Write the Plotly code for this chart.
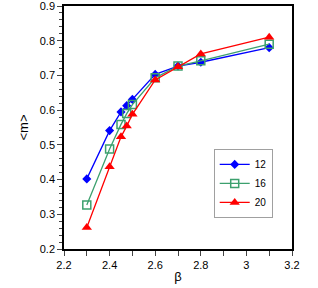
import plotly.graph_objects as go

beta = [2.3, 2.4, 2.45, 2.475, 2.5, 2.6, 2.7, 2.8, 3.1]
m12 = [0.402, 0.541, 0.595, 0.613, 0.631, 0.703, 0.727, 0.738, 0.780]
m16 = [0.327, 0.488, 0.559, 0.590, 0.616, 0.693, 0.727, 0.742, 0.790]
m20 = [0.262, 0.437, 0.523, 0.554, 0.588, 0.687, 0.725, 0.762, 0.810]
names = ["12", "16", "20"]

FONT = "Liberation Sans, Arial, sans-serif"

fig = go.Figure()
fig.add_trace(go.Scatter(x=beta, y=m12, name=names[0], mode="lines+markers",
                         line=dict(color="#0000FF", width=1.3),
                         marker=dict(symbol="diamond", size=7, color="#0000FF")))
fig.add_trace(go.Scatter(x=beta, y=m16, name=names[1], mode="lines+markers",
                         line=dict(color="#3CA06E", width=1.3),
                         marker=dict(symbol="square-open", size=8, color="#3CA06E",
                                     line=dict(width=1.5, color="#3CA06E"))))
fig.add_trace(go.Scatter(x=beta, y=m20, name=names[2], mode="lines+markers",
                         line=dict(color="#FF0000", width=1.3),
                         marker=dict(symbol="triangle-up", size=9, color="#FF0000")))

fig.update_layout(
    width=318, height=288,
    margin=dict(l=64, r=26, t=6, b=39),
    paper_bgcolor="white", plot_bgcolor="white",
    font=dict(family=FONT, size=11, color="black"),
    showlegend=True,
    legend=dict(x=0.786, y=0.27, xanchor="center", yanchor="middle",
                bordercolor="#A0A0A0", borderwidth=1, bgcolor="white",
                font=dict(size=10), tracegroupgap=0, itemwidth=30),
    xaxis=dict(range=[2.2, 3.2], dtick=0.2, tick0=2.2, ticks="outside", ticklen=5,
               tickwidth=1, showgrid=False, zeroline=False, automargin=False,
               ticklabeloverflow="allow",
               showline=True, linecolor="black", linewidth=1.5, mirror=True,
               minor=dict(dtick=0.1, ticks="outside", ticklen=5, showgrid=False),
               title=dict(text="β", standoff=2, font=dict(size=13))),
    yaxis=dict(range=[0.2, 0.9], dtick=0.1, ticks="outside", ticklen=5,
               tickwidth=1, showgrid=False, zeroline=False, automargin=False,
               ticklabeloverflow="allow",
               showline=True, linecolor="black", linewidth=1.5, mirror=True,
               minor=dict(dtick=0.02, ticks="outside", ticklen=3, showgrid=False),
               title=dict(text="&lt;m&gt;", standoff=8, font=dict(size=13))),
)

fig.write_html("out.html", config={"displayModeBar": False},
               post_script="document.body.style.margin='0';document.body.style.overflow='hidden';")
